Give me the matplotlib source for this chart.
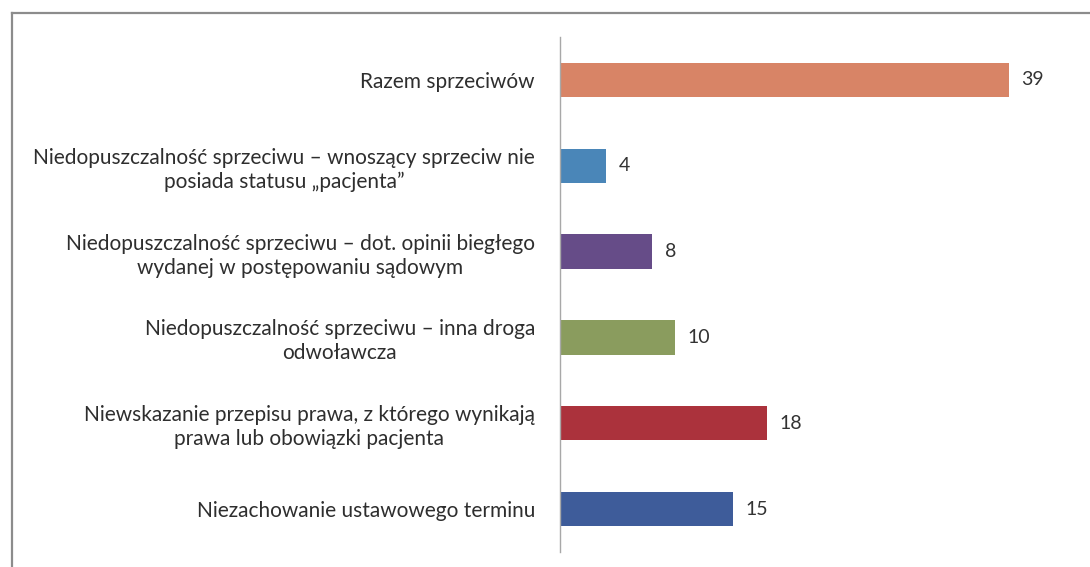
import matplotlib
matplotlib.use("Agg")
import matplotlib.pyplot as plt
from matplotlib.lines import Line2D

plt.rcParams['font.family'] = ['Lato', 'DejaVu Sans']

labels = [
    "Razem sprzeciwów",
    "Niedopuszczalność sprzeciwu – wnoszący sprzeciw nie\nposiada statusu „pacjenta”",
    "Niedopuszczalność sprzeciwu – dot. opinii biegłego\nwydanej w postępowaniu sądowym",
    "Niedopuszczalność sprzeciwu – inna droga\nodwoławcza",
    "Niewskazanie przepisu prawa, z którego wynikają\nprawa lub obowiązki pacjenta",
    "Niezachowanie ustawowego terminu",
]
values = [39, 4, 8, 10, 18, 15]
colors = ["#D88466", "#4A86B8", "#664C88", "#8A9C5E", "#AB323C", "#3E5C9A"]

W, H = 1090, 567
fig = plt.figure(figsize=(W / 100, H / 100), dpi=100)
ax = fig.add_axes([560 / W, 15 / H, 518 / W, 515 / H])

pos = list(range(len(values)))
ax.barh(pos, values, height=0.4, color=colors)
ax.set_ylim(len(values) - 0.5, -0.5)
ax.set_xlim(0, 45)

for p, v in zip(pos, values):
    ax.text(v + 1.1, p, str(v), va='center', ha='left', fontsize=14, color='#333333')

ax.set_yticks(pos)
ax.set_yticklabels(labels, fontsize=15, color='#2e2e2e')
for t in ax.get_yticklabels():
    t.set_multialignment('center')
    t.set_linespacing(1.25)
ax.tick_params(axis='y', length=0, pad=18)
ax.set_xticks([])
for s in ['top', 'right', 'bottom']:
    ax.spines[s].set_visible(False)
ax.spines['left'].set_color('#a8a8a8')
ax.spines['left'].set_linewidth(1.0)

# outer frame (top and left edges visible in the original)
fig.add_artist(Line2D([12 / W, 1], [1 - 13 / H, 1 - 13 / H], color='#8c8c8c', lw=1.6, transform=fig.transFigure))
fig.add_artist(Line2D([12 / W, 12 / W], [0, 1 - 13 / H], color='#8c8c8c', lw=1.6, transform=fig.transFigure))

fig.savefig("out.png", dpi=100)
